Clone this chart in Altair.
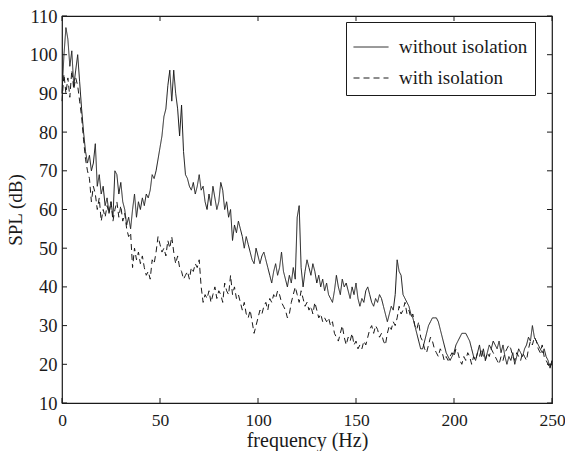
import altair as alt
import pandas as pd

# Sound pressure level spectra, 1 Hz spacing from 0 to 250 Hz
freq_hz = list(range(0, 251))

spl_without = [
    90, 100, 107, 104, 97, 101, 92, 96, 100, 93,
    86, 80, 75, 72, 74, 70, 72, 77, 66, 69,
    64, 66, 61, 63, 59, 62, 58, 70, 69, 64,
    67, 62, 60, 56, 58, 55, 60, 64, 58, 62,
    60, 63, 61, 64, 63, 65, 69, 68, 70, 73,
    76, 79, 84, 86, 92, 96, 88, 96, 90, 86,
    79, 87, 75, 69, 68, 66, 65, 67, 64, 66,
    69, 65, 66, 62, 60, 64, 61, 66, 63, 60,
    62, 67, 65, 60, 62, 58, 60, 52, 56, 54,
    57, 55, 53, 50, 53, 51, 49, 47, 46, 50,
    48, 46, 48, 49, 47, 45, 43, 41, 44, 46,
    43, 45, 49, 44, 42, 40, 43, 41, 45, 42,
    58, 61, 45, 40, 44, 47, 45, 43, 46, 44,
    41, 43, 40, 42, 39, 41, 38, 37, 36, 39,
    43, 40, 38, 42, 40, 41, 39, 37, 40, 38,
    41, 37, 35, 37, 36, 39, 40, 38, 36, 35,
    37, 36, 38, 37, 35, 33, 31, 33, 35, 34,
    38, 47, 44, 43, 38, 37, 36, 35, 33, 32,
    30, 28, 26, 24, 24, 26, 28, 30, 31, 32,
    32, 32, 31, 29, 27, 25, 23, 22, 21, 22,
    23, 25, 26, 27, 28, 28, 28, 27, 26, 24,
    22, 21, 23, 25, 22, 24, 21, 23, 25, 24,
    26, 25, 24, 26, 23, 25, 22, 20, 22, 21,
    23, 20, 22, 24, 23, 22, 24, 25, 27, 26,
    30, 27, 26, 25, 24, 23, 24, 22, 21, 19,
    21,
]

spl_with = [
    88, 95, 90, 94, 89, 96, 91, 94, 92, 88,
    84, 78, 73, 70, 68, 62, 66, 64, 60, 63,
    57, 60, 58, 61, 59, 62, 57, 60, 62, 58,
    61, 57, 59, 55, 53, 54, 45, 50, 47, 49,
    46, 48, 45, 43, 44, 42, 47, 46, 49, 53,
    51, 49, 50, 48, 52, 50, 53, 49, 46, 48,
    45, 44, 42, 43, 44, 42, 45, 44, 46, 45,
    47, 40, 36, 38, 37, 39, 36, 38, 40, 37,
    39, 38, 36, 41, 39, 38, 43, 38, 40, 37,
    38, 36, 34, 36, 33, 32, 34, 31, 28, 30,
    32, 34, 33, 35, 36, 34, 37, 36, 38, 37,
    39, 38, 36, 35, 34, 32, 33, 36, 38, 40,
    38, 36, 39, 37, 35, 36, 34, 35, 33, 36,
    34, 32, 33, 31, 32, 31, 32, 30, 31, 28,
    27, 26, 28, 30, 27, 25, 27, 26, 28, 25,
    26, 24, 25, 24, 26, 25, 27, 29, 30, 28,
    30, 29, 27, 28, 26, 25, 28, 30, 29, 31,
    30, 32, 35, 33, 34, 36, 33, 34, 32, 33,
    30, 29, 31, 27, 26, 24, 23, 25, 27, 26,
    24, 23, 22, 24, 23, 21, 22, 21, 22, 23,
    22, 24, 23, 21, 20, 22, 21, 23, 22, 20,
    22, 21, 23, 22, 24, 22, 21, 23, 22, 24,
    23, 22, 21, 20, 22, 21, 23, 24, 25, 24,
    22, 21, 23, 22, 21, 23, 22, 21, 24, 26,
    25, 27, 26, 24, 23, 25, 22, 21, 20, 19,
    21,
]

series_names = ["without isolation", "with isolation"]
x_ticks = [0, 50, 100, 150, 200, 250]
y_ticks = [10, 20, 30, 40, 50, 60, 70, 80, 90, 100, 110]

W, H = 490, 387
FONT = "Liberation Serif"
INK = "#1a1a1a"

spectra = pd.concat([
    pd.DataFrame({"frequency": freq_hz, "spl": spl_without, "case": series_names[0]}),
    pd.DataFrame({"frequency": freq_hz, "spl": spl_with, "case": series_names[1]}),
])
xt = pd.DataFrame({"frequency": x_ticks})
yt = pd.DataFrame({"spl": y_ticks})

x_scale = alt.Scale(domain=[0, 250], nice=False, zero=False)
y_scale = alt.Scale(domain=[10, 110], nice=False, zero=False)

x_axis = alt.Axis(values=x_ticks, ticks=False, domain=False, grid=False,
                  labelOverlap=False, labelFlush=False,
                  labelFont=FONT, labelFontSize=17.5, labelColor=INK, labelPadding=8,
                  title="frequency (Hz)", titleFont=FONT, titleFontSize=20,
                  titleFontWeight="normal", titleColor=INK, titlePadding=2)
y_axis = alt.Axis(values=y_ticks, ticks=False, domain=False, grid=False,
                  labelOverlap=False, labelFlush=False,
                  labelFont=FONT, labelFontSize=18.5, labelColor=INK, labelPadding=5,
                  title="SPL (dB)", titleFont=FONT, titleFontSize=19,
                  titleFontWeight="normal", titleColor=INK, titlePadding=4)

lines = alt.Chart(spectra).mark_line(strokeWidth=1, color=INK, interpolate="linear").encode(
    x=alt.X("frequency:Q", scale=x_scale, axis=x_axis),
    y=alt.Y("spl:Q", scale=y_scale, axis=y_axis),
    strokeDash=alt.StrokeDash(
        "case:N",
        scale=alt.Scale(domain=series_names, range=[[1, 0], [6, 4]]),
        sort=series_names,
        legend=alt.Legend(
            title=None, orient="none", legendX=284, legendY=6,
            symbolType="stroke", symbolSize=1225, symbolStrokeWidth=1,
            symbolStrokeColor=INK, labelFont=FONT, labelFontSize=19,
            labelColor=INK, labelOffset=10, rowPadding=3, padding=7,
            strokeColor=INK, fillColor="white", cornerRadius=0,
        ),
    ),
    order=alt.Order("frequency:Q"),
)

# inward tick marks on all four sides of the frame
tick_style = dict(color=INK, strokeWidth=1)
x_bottom = alt.Chart(xt).mark_rule(**tick_style).encode(
    x=alt.X("frequency:Q", scale=x_scale, axis=x_axis), y=alt.value(H), y2=alt.value(H - 5))
x_top = alt.Chart(xt).mark_rule(**tick_style).encode(
    x=alt.X("frequency:Q", scale=x_scale, axis=x_axis), y=alt.value(0), y2=alt.value(5))
y_left = alt.Chart(yt).mark_rule(**tick_style).encode(
    y=alt.Y("spl:Q", scale=y_scale, axis=y_axis), x=alt.value(0), x2=alt.value(5))
y_right = alt.Chart(yt).mark_rule(**tick_style).encode(
    y=alt.Y("spl:Q", scale=y_scale, axis=y_axis), x=alt.value(W), x2=alt.value(W - 5))

chart = alt.layer(lines, x_bottom, x_top, y_left, y_right).properties(
    width=W, height=H,
    autosize=alt.AutoSizeParams(type="none"),
    padding={"left": 62, "top": 16, "right": 13, "bottom": 48},
    background="white",
).configure_view(stroke=INK, strokeWidth=1.2).configure_axis(labelOverlap=False)

chart.save("out.html", embed_options={"renderer": "svg", "actions": False})
